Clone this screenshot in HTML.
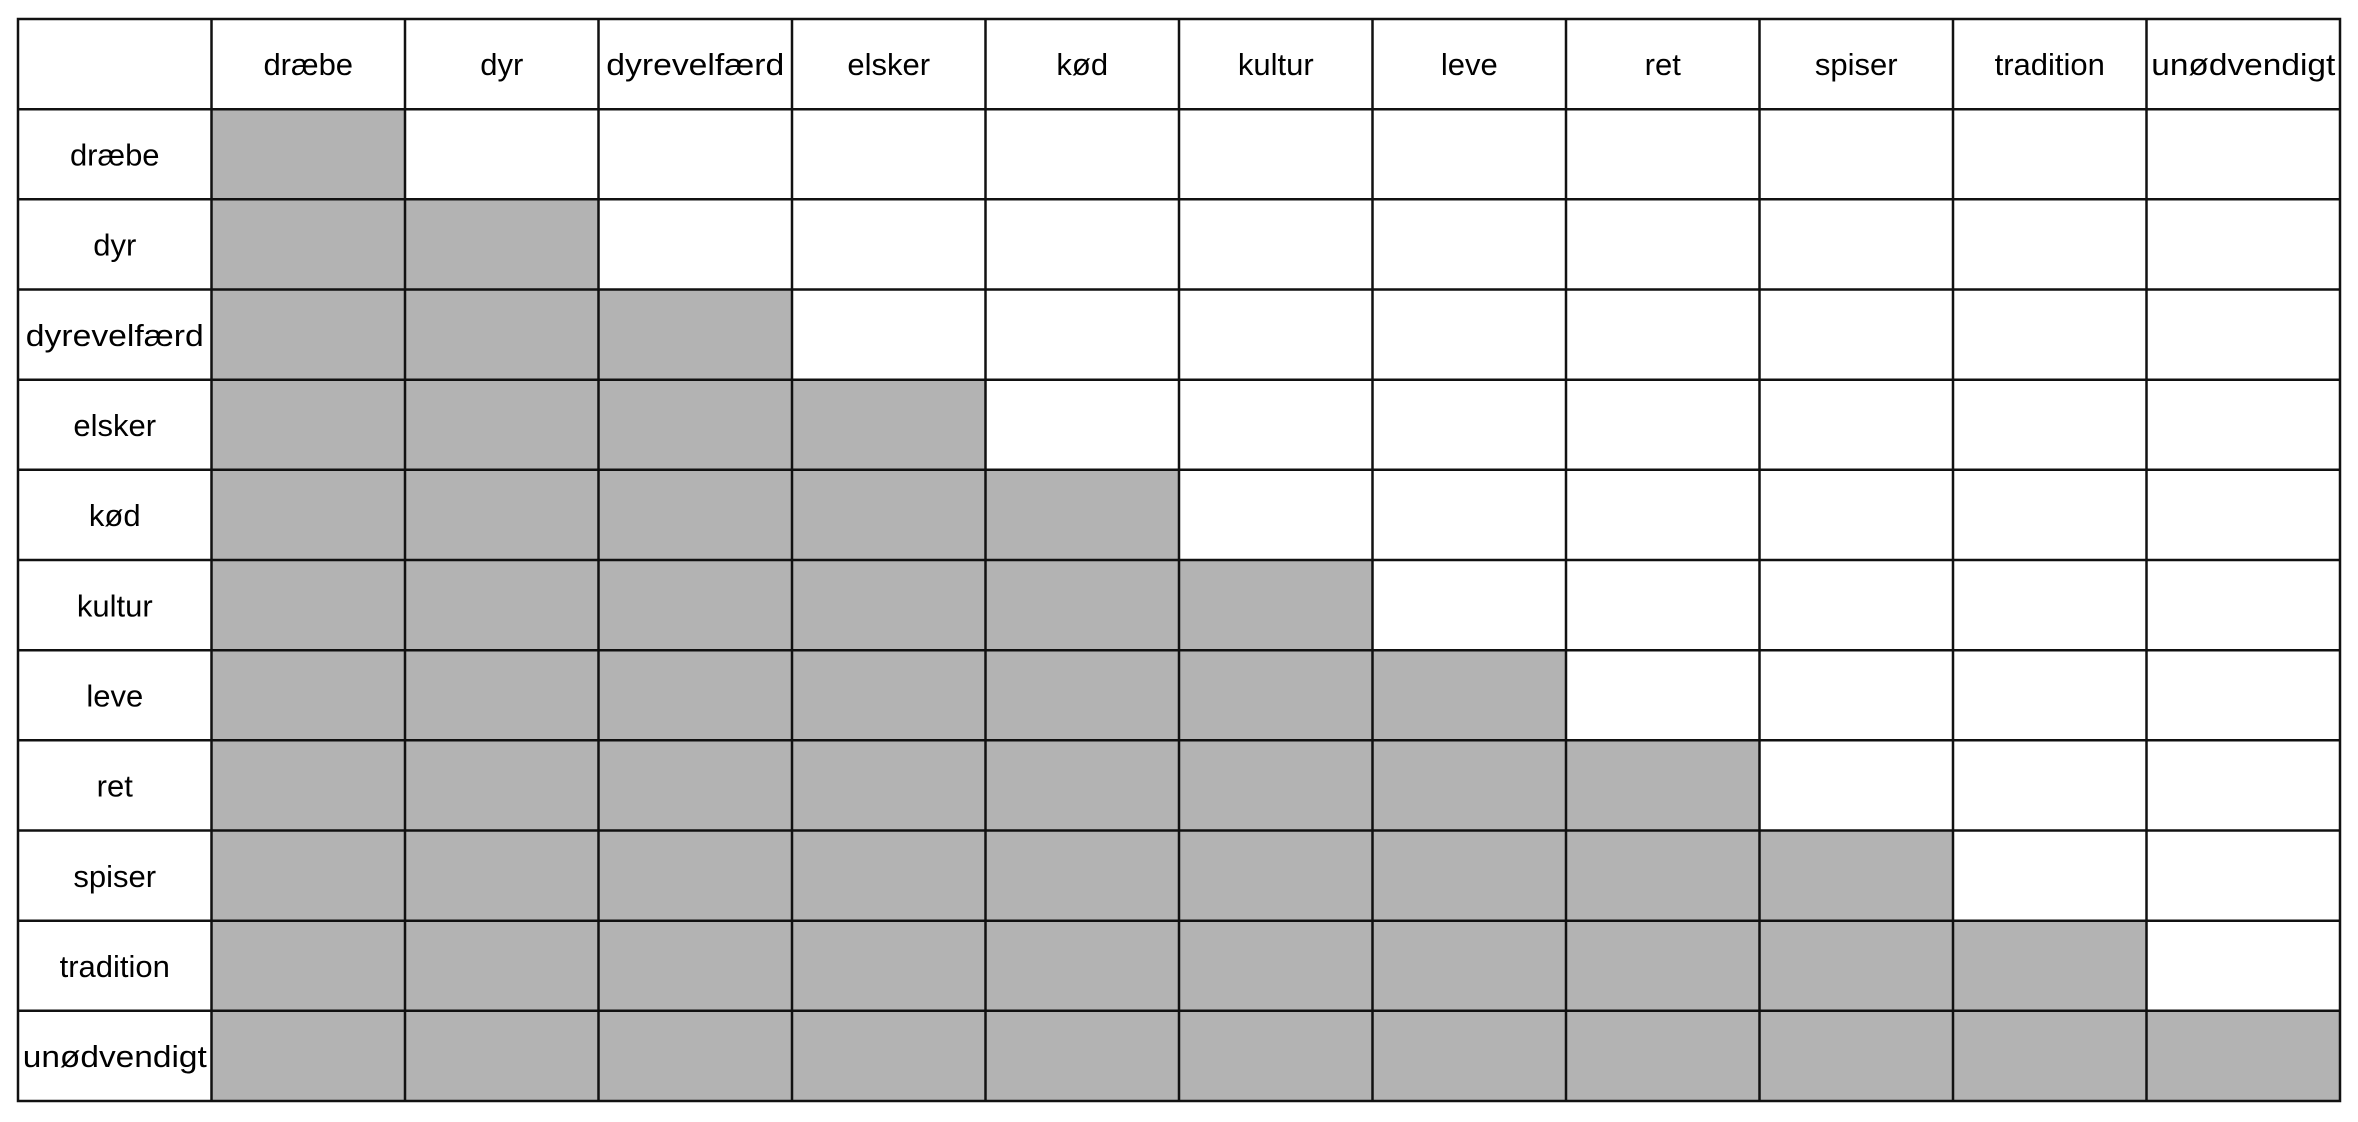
<!DOCTYPE html>
<html><head><meta charset="utf-8"><style>html,body{margin:0;padding:0;background:#fff;}svg{display:block}</style></head>
<body>
<svg width="2358" height="1122" xmlns="http://www.w3.org/2000/svg" font-family="Liberation Sans, DejaVu Sans, sans-serif" font-size="31" text-anchor="middle" fill="#000">
<rect width="2358" height="1122" fill="#fff"/>
<g fill="#b3b3b3">
<rect x="211.5" y="109.2" width="193.5" height="90.1"/>
<rect x="211.5" y="199.3" width="387" height="90.2"/>
<rect x="211.5" y="289.5" width="580.5" height="90.2"/>
<rect x="211.5" y="379.7" width="774" height="90.1"/>
<rect x="211.5" y="469.8" width="967.5" height="90.2"/>
<rect x="211.5" y="560" width="1161" height="90.2"/>
<rect x="211.5" y="650.2" width="1354.5" height="90.1"/>
<rect x="211.5" y="740.3" width="1548" height="90.2"/>
<rect x="211.5" y="830.5" width="1741.5" height="90.2"/>
<rect x="211.5" y="920.7" width="1935" height="90.1"/>
<rect x="211.5" y="1010.8" width="2128.5" height="90.2"/>
</g>
<g stroke="#111" stroke-width="2.5" fill="none">
<rect x="18" y="19" width="2322" height="1082"/>
<path d="M211.5 19V1101M405 19V1101M598.5 19V1101M792 19V1101M985.5 19V1101M1179 19V1101M1372.5 19V1101M1566 19V1101M1759.5 19V1101M1953 19V1101M2146.5 19V1101"/>
<path d="M18 109.2H2340M18 199.3H2340M18 289.5H2340M18 379.7H2340M18 469.8H2340M18 560H2340M18 650.2H2340M18 740.3H2340M18 830.5H2340M18 920.7H2340M18 1010.8H2340"/>
</g>
<g>
<text x="308.25" y="75">dræbe</text>
<text x="501.75" y="75">dyr</text>
<text x="695.25" y="75" textLength="178" lengthAdjust="spacingAndGlyphs">dyrevelfærd</text>
<text x="888.75" y="75">elsker</text>
<text x="1082.25" y="75">kød</text>
<text x="1275.75" y="75">kultur</text>
<text x="1469.25" y="75">leve</text>
<text x="1662.75" y="75">ret</text>
<text x="1856.25" y="75">spiser</text>
<text x="2049.75" y="75">tradition</text>
<text x="2243.25" y="75" textLength="184" lengthAdjust="spacingAndGlyphs">unødvendigt</text>

<text x="114.75" y="165.5">dræbe</text>
<text x="114.75" y="255.6">dyr</text>
<text x="114.75" y="345.8" textLength="178" lengthAdjust="spacingAndGlyphs">dyrevelfærd</text>
<text x="114.75" y="436">elsker</text>
<text x="114.75" y="526.1">kød</text>
<text x="114.75" y="616.3">kultur</text>
<text x="114.75" y="706.5">leve</text>
<text x="114.75" y="796.6">ret</text>
<text x="114.75" y="886.8">spiser</text>
<text x="114.75" y="977">tradition</text>
<text x="114.75" y="1067.1" textLength="184" lengthAdjust="spacingAndGlyphs">unødvendigt</text>
</g>
</svg>
</body></html>
